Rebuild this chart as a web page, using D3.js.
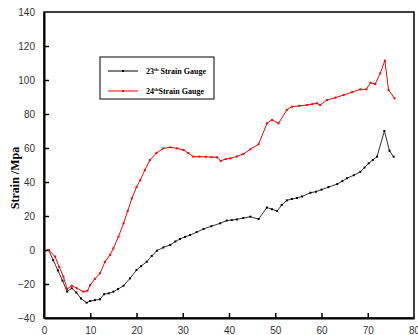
<!DOCTYPE html>
<html>
<head>
<meta charset="utf-8">
<script src="https://cdn.jsdelivr.net/npm/d3@7.9.0/dist/d3.min.js"></script>
<style>
  body { margin: 0; background: #fff; }
  svg { display: block; }
</style>
</head>
<body>
<svg id="chart" width="418" height="335"></svg>
<script>
// 23th strain gauge (black)
const g23X = [1, 2, 3, 4, 5, 6, 7, 8, 9.2, 10, 11, 12.1, 13, 14, 15, 16, 17.2, 18.6, 20, 21, 22.2, 23.3, 24.4, 25.8, 27.3, 28.4, 29.4, 30.5, 31.6, 33, 34.5, 36.2, 38.1, 39.5, 40.6, 41.7, 43.1, 44.6, 46.4, 48.2, 49.3, 50.4, 51.4, 52.5, 53.6, 54.7, 55.8, 57.6, 58.8, 60, 61.5, 63.4, 64.5, 65.5, 67, 68.4, 69.3, 70.2, 71.1, 72, 73.6, 74.7, 75.6];
const g23Y = [0, -6, -12, -18, -24.5, -22.5, -25, -28.5, -31, -30, -29.5, -29, -26, -25.5, -24.5, -23, -21, -16.7, -11.8, -9.5, -6.9, -3.5, -0.4, 1.5, 3, 5, 6.5, 7.7, 8.8, 10.5, 12.4, 14, 15.7, 17.3, 17.6, 18, 18.8, 19.6, 18.2, 25, 24, 22.9, 26.5, 29.2, 30, 30.6, 31.5, 33.7, 34.3, 35.5, 37, 38.8, 40.5, 42.2, 44, 46, 48.5, 51, 53, 54.9, 70, 58.4, 54.9];

// 24th strain gauge (red)
const g24X = [1, 2.4, 3.3, 4.2, 5, 6, 7.1, 8.5, 9.4, 10, 11, 12.1, 13.2, 14.3, 15, 16.1, 17.2, 18.1, 19, 20, 20.8, 21.8, 22.9, 24.3, 25.8, 27.3, 28.8, 30.2, 31.2, 32.3, 33.6, 35, 36.2, 37.4, 38.2, 39.3, 40.3, 41.7, 43.1, 44.6, 46.4, 48.2, 49.3, 50.7, 52.5, 53.6, 55.2, 56.9, 58, 59, 59.7, 61.2, 63, 64.8, 66.6, 68.4, 69.7, 70.6, 71.6, 72.7, 73.7, 74.5, 75.8];
const g24Y = [0, -3.9, -10, -15.7, -23, -21, -22.5, -24.5, -24, -20.6, -17, -13.7, -6.9, -2.9, 1, 7.8, 15.7, 23, 30.4, 37, 41, 47, 52.9, 57, 59.8, 60.4, 59.8, 58.8, 57, 54.9, 54.9, 54.8, 54.6, 54.5, 52.4, 53.5, 53.9, 55, 56.5, 59.2, 62.2, 74.5, 76.5, 74.5, 82.4, 84.3, 84.8, 85.3, 85.8, 86.3, 85.3, 88.2, 89.6, 91.2, 92.8, 94.5, 94.5, 98.4, 97.6, 103.9, 111.4, 94.1, 89.2];

const xTicks = [0, 10, 20, 30, 40, 50, 60, 70, 80];
const yTicks = [-40, -20, 0, 20, 40, 60, 80, 100, 120, 140];
const legendLabels = [["23", "th", " Strain Gauge"], ["24", "th", "Strain Gauge"]];
const seriesColors = ["#000000", "#ff0000"];

const svg = d3.select("#chart");
const plotL = 44, plotR = 414, plotT = 12, plotB = 318;

const x = d3.scaleLinear().domain([0, 80]).range([plotL, plotR]);
const y = d3.scaleLinear().domain([-40, 140]).range([plotB, plotT]);

// frame (top and right)
svg.append("rect")
  .attr("x", plotL).attr("y", plotT)
  .attr("width", plotR - plotL).attr("height", plotB - plotT)
  .attr("fill", "none").attr("stroke", "#000").attr("stroke-width", 1.5);

// axes with inward ticks
const xAxis = svg.append("g")
  .attr("transform", `translate(0,${plotB})`)
  .call(d3.axisBottom(x).tickValues(xTicks).tickSizeInner(-5).tickSizeOuter(0).tickPadding(9));
const yAxis = svg.append("g")
  .attr("transform", `translate(${plotL},0)`)
  .call(d3.axisLeft(y).tickValues(yTicks).tickSizeInner(-5).tickSizeOuter(0).tickPadding(9));

[xAxis, yAxis].forEach(a => {
  a.select(".domain").attr("stroke", "#000").attr("stroke-width", 2);
  a.selectAll(".tick line").attr("stroke", "#000").attr("stroke-width", 1.5);
  a.selectAll(".tick text")
    .attr("fill", "#333")
    .style("font-family", "Arial, 'Liberation Sans', sans-serif")
    .style("font-size", "10px");
});
xAxis.selectAll(".tick").filter(d => d === 0 || d === 80).select("line").remove();
yAxis.selectAll(".tick").filter(d => d === -40 || d === 140).select("line").remove();

// y label
svg.append("text")
  .attr("transform", "translate(19,178) rotate(-90)")
  .attr("text-anchor", "middle")
  .style("font-family", "'Times New Roman', 'Liberation Serif', serif")
  .style("font-weight", "bold")
  .style("font-size", "12px")
  .text("Strain /Mpa");

// lines
const line = d3.line().x(d => x(d[0])).y(d => y(d[1]));
const series = [
  d3.zip(g23X, g23Y),
  d3.zip(g24X, g24Y)
];

series.forEach((pts, i) => {
  svg.append("path")
    .datum(pts)
    .attr("d", line)
    .attr("fill", "none")
    .attr("stroke", seriesColors[i])
    .attr("stroke-width", 1)
    .attr("opacity", i === 0 ? 0.8 : 1);
  svg.append("g").selectAll("rect")
    .data(pts)
    .join("rect")
    .attr("x", d => x(d[0]) - 1)
    .attr("y", d => y(d[1]) - 1)
    .attr("width", 2).attr("height", 2)
    .attr("fill", seriesColors[i]);
});

// legend
const lg = svg.append("g");
lg.append("rect")
  .attr("x", 100).attr("y", 57).attr("width", 114).attr("height", 42)
  .attr("fill", "#fff").attr("stroke", "#000").attr("stroke-width", 1);

legendLabels.forEach((lab, i) => {
  const ly = 71 + i * 20;
  lg.append("line")
    .attr("x1", 108).attr("x2", 138).attr("y1", ly).attr("y2", ly)
    .attr("stroke", seriesColors[i]).attr("stroke-width", 1);
  lg.append("rect")
    .attr("x", 122).attr("y", ly - 1).attr("width", 2).attr("height", 2)
    .attr("fill", seriesColors[i]);
  const t = lg.append("text")
    .attr("x", 146).attr("y", ly + 3)
    .style("font-family", "'Times New Roman', 'Liberation Serif', serif")
    .style("font-weight", "bold")
    .style("font-size", "8px");
  t.append("tspan").text(lab[0]);
  t.append("tspan").attr("dy", -3).style("font-size", "5px").text(lab[1]);
  t.append("tspan").attr("dy", 3).text(lab[2]);
});
</script>
</body>
</html>
